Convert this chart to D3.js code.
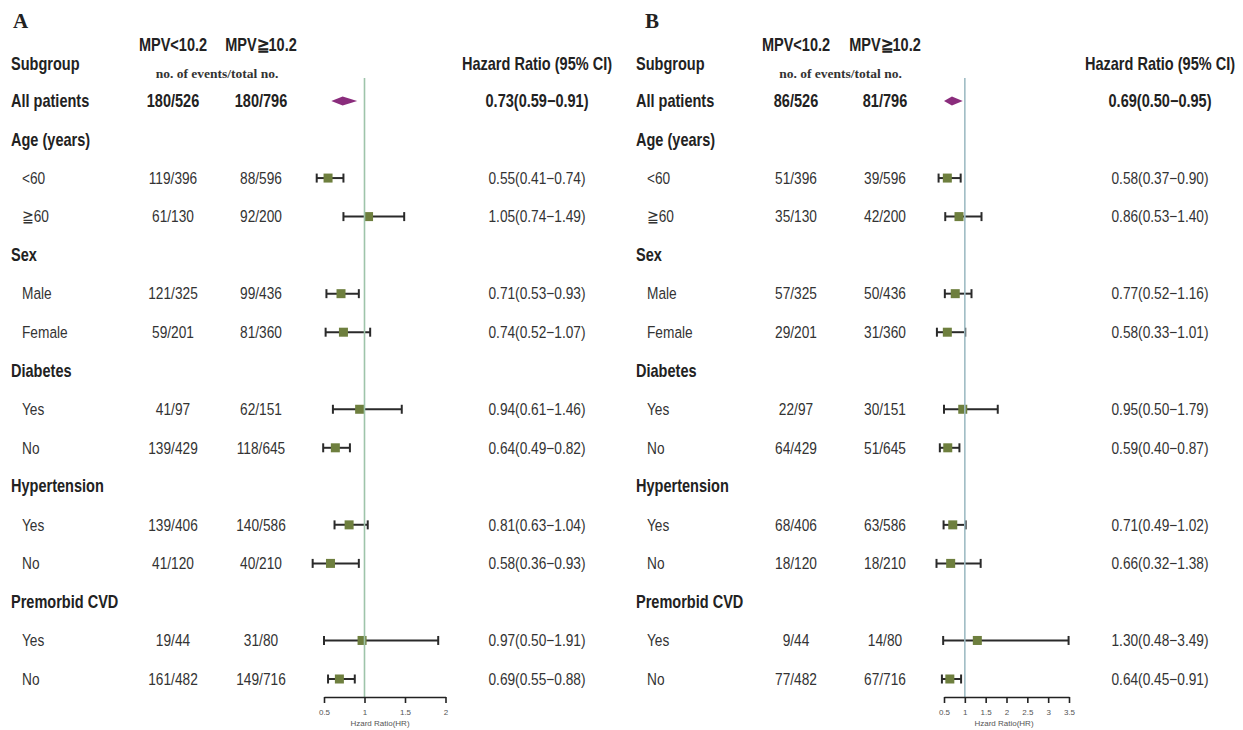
<!DOCTYPE html>
<html><head><meta charset="utf-8">
<script src="https://cdn.jsdelivr.net/npm/d3@7"></script>
<style>
html,body{margin:0;padding:0;background:#fff;}
svg{display:block;}
text{font-family:"Liberation Sans",Arial,sans-serif;}
</style></head>
<body>
<svg id="chart" width="1243" height="730"></svg>
<script>
const subgroups = ["All patients","Age (years)","<60","\u226760","Sex","Male","Female","Diabetes","Yes","No","Hypertension","Yes","No","Premorbid CVD","Yes","No"];
const rowKinds  = ["total","head","sub","sub","head","sub","sub","head","sub","sub","head","sub","sub","head","sub","sub"];

const eventsLowA  = ["180/526",null,"119/396","61/130",null,"121/325","59/201",null,"41/97","139/429",null,"139/406","41/120",null,"19/44","161/482"];
const eventsHighA = ["180/796",null,"88/596","92/200",null,"99/436","81/360",null,"62/151","118/645",null,"140/586","40/210",null,"31/80","149/716"];
const hrA   = [0.73,null,0.55,1.05,null,0.71,0.74,null,0.94,0.64,null,0.81,0.58,null,0.97,0.69];
const lowA  = [0.59,null,0.41,0.74,null,0.53,0.52,null,0.61,0.49,null,0.63,0.36,null,0.50,0.55];
const highA = [0.91,null,0.74,1.49,null,0.93,1.07,null,1.46,0.82,null,1.04,0.93,null,1.91,0.88];
const ticksA = [0.5,1,1.5,2];

const eventsLowB  = ["86/526",null,"51/396","35/130",null,"57/325","29/201",null,"22/97","64/429",null,"68/406","18/120",null,"9/44","77/482"];
const eventsHighB = ["81/796",null,"39/596","42/200",null,"50/436","31/360",null,"30/151","51/645",null,"63/586","18/210",null,"14/80","67/716"];
const hrB   = [0.69,null,0.58,0.86,null,0.77,0.58,null,0.95,0.59,null,0.71,0.66,null,1.30,0.64];
const lowB  = [0.50,null,0.37,0.53,null,0.52,0.33,null,0.50,0.40,null,0.49,0.32,null,0.48,0.45];
const highB = [0.95,null,0.90,1.40,null,1.16,1.01,null,1.79,0.87,null,1.02,1.38,null,3.49,0.91];
const ticksB = [0.5,1,1.5,2,2.5,3,3.5];

const svg = d3.select("#chart");
const y = d3.scalePoint().domain(d3.range(subgroups.length)).range([101, 679]);
const SX = 0.83; // horizontal condensation, reference uses a narrow sans face

function panel(cfg){
  const g = svg.append("g");
  const serif = "\"Liberation Serif\",\"Times New Roman\",serif";
  const at = (x,yy)=>`translate(${x},${yy}) scale(${SX},1)`;
  // panel letter
  g.append("text").attr("x", cfg.letterX).attr("y", 28).text(cfg.letter)
    .style("font-family", serif).style("font-weight","bold").style("font-size","21px").attr("fill","#222");
  // headers
  g.append("text").attr("transform", at(cfg.labelX,64)).attr("dy","0.35em").text("Subgroup")
    .style("font-weight","bold").style("font-size","17.5px").attr("fill","#222");
  g.append("text").attr("transform", at(cfg.col1,45)).attr("dy","0.35em").attr("text-anchor","middle").text("MPV<10.2")
    .style("font-weight","bold").style("font-size","17.5px").attr("fill","#222");
  g.append("text").attr("transform", at(cfg.col2,45)).attr("dy","0.35em").attr("text-anchor","middle").text("MPV\u226710.2")
    .style("font-weight","bold").style("font-size","17.5px").attr("fill","#222");
  g.append("text").attr("x", (cfg.col1+cfg.col2)/2).attr("y", 73).attr("dy","0.35em").attr("text-anchor","middle").text("no. of events/total no.")
    .style("font-family", serif).style("font-weight","bold").style("font-size","13.5px").attr("fill","#333");
  g.append("text").attr("transform", at(cfg.hrX,64)).attr("dy","0.35em").attr("text-anchor","middle").text("Hazard Ratio (95% CI)")
    .style("font-weight","bold").style("font-size","17.5px").attr("fill","#222");

  const rows = g.selectAll("g.row").data(subgroups.map((s,i)=>({i, s, kind:rowKinds[i],
      e1:cfg.e1[i], e2:cfg.e2[i], hr:cfg.hr[i], lo:cfg.lo[i], hi:cfg.hi[i]})))
    .join("g").attr("class","row").attr("transform", d=>`translate(0,${y(d.i)})`);

  rows.append("text").attr("transform", d=> at(d.kind==="sub" ? cfg.labelX+11 : cfg.labelX, 0)).attr("dy","0.35em")
    .text(d=>d.s)
    .style("font-weight", d=> d.kind==="sub" ? "normal" : "bold")
    .style("font-size", d=> d.kind==="sub" ? "16.5px" : "17.5px")
    .attr("fill", d=> d.kind==="sub" ? "#333" : "#222");

  const dataRows = rows.filter(d=>d.hr!==null);
  const bold = d=> d.kind==="total" ? "bold" : "normal";
  const fs = d=> d.kind==="total" ? "17.5px" : "16.5px";
  const col = d=> d.kind==="total" ? "#222" : "#333";
  dataRows.append("text").attr("transform", at(cfg.col1,0)).attr("dy","0.35em").attr("text-anchor","middle").text(d=>d.e1)
    .style("font-weight",bold).style("font-size",fs).attr("fill",col);
  dataRows.append("text").attr("transform", at(cfg.col2,0)).attr("dy","0.35em").attr("text-anchor","middle").text(d=>d.e2)
    .style("font-weight",bold).style("font-size",fs).attr("fill",col);
  dataRows.append("text").attr("transform", at(cfg.hrX,0)).attr("dy","0.35em").attr("text-anchor","middle")
    .text(d=> `${d.hr.toFixed(2)}(${d.lo.toFixed(2)}\u2212${d.hi.toFixed(2)})`)
    .style("font-weight",bold).style("font-size",fs).attr("fill",col);

  // forest
  const x = d3.scaleLinear().domain(cfg.domain).range(cfg.range);
  const axisY = 697;
  g.append("line").attr("x1", x(1)).attr("x2", x(1)).attr("y1", 78).attr("y2", axisY)
    .attr("stroke", cfg.refColor).attr("stroke-width", 1.6);

  const est = dataRows.filter(d=>d.kind!=="total");
  est.append("line").attr("x1", d=>x(d.lo)).attr("x2", d=>x(d.hi)).attr("stroke","#2a2a2a").attr("stroke-width",2);
  est.append("line").attr("x1", d=>x(d.lo)).attr("x2", d=>x(d.lo)).attr("y1",-4.5).attr("y2",4.5).attr("stroke","#2a2a2a").attr("stroke-width",2);
  est.append("line").attr("x1", d=>x(d.hi)).attr("x2", d=>x(d.hi)).attr("y1",-4.5).attr("y2",4.5).attr("stroke","#2a2a2a").attr("stroke-width",2);
  est.append("rect").attr("x", d=>x(d.hr)-4.5).attr("y",-4.5).attr("width",9).attr("height",9).attr("fill","#6e7f3e");

  dataRows.filter(d=>d.kind==="total").append("path")
    .attr("d", d=>`M${x(d.lo)},0 L${x(d.hr)},-4.5 L${x(d.hi)},0 L${x(d.hr)},4.5 Z`)
    .attr("fill","#8a2c7c");

  const ax = g.append("g").attr("transform",`translate(0,${axisY})`)
    .call(d3.axisBottom(x).tickValues(cfg.ticks).tickSize(6).tickSizeOuter(0).tickFormat(d3.format("")));
  ax.select(".domain").attr("stroke","#222").attr("stroke-width",1.6);
  ax.selectAll(".tick line").attr("stroke","#222").attr("stroke-width",1.6);
  ax.selectAll(".tick text").attr("y",12).style("font-size","8px").attr("fill","#555")
    .style("font-family","\"Liberation Sans\",Arial,sans-serif");
  g.append("text").attr("x", cfg.axisTitleX).attr("y", 726).attr("text-anchor","middle").text("Hzard Ratio(HR)")
    .style("font-size","8px").attr("fill","#555").style("font-family","\"Liberation Sans\",Arial,sans-serif");
}

panel({letter:"A", letterX:13, labelX:11, col1:173, col2:261, hrX:537,
  e1:eventsLowA, e2:eventsHighA, hr:hrA, lo:lowA, hi:highA,
  domain:[0.5,2], range:[324,445.5], ticks:ticksA, refColor:"#9ec4aa", axisTitleX:380});
panel({letter:"B", letterX:645, labelX:636, col1:796, col2:885, hrX:1160,
  e1:eventsLowB, e2:eventsHighB, hr:hrB, lo:lowB, hi:highB,
  domain:[0.5,3.5], range:[944,1069], ticks:ticksB, refColor:"#9fbcc4", axisTitleX:1004});
</script>
</body></html>
